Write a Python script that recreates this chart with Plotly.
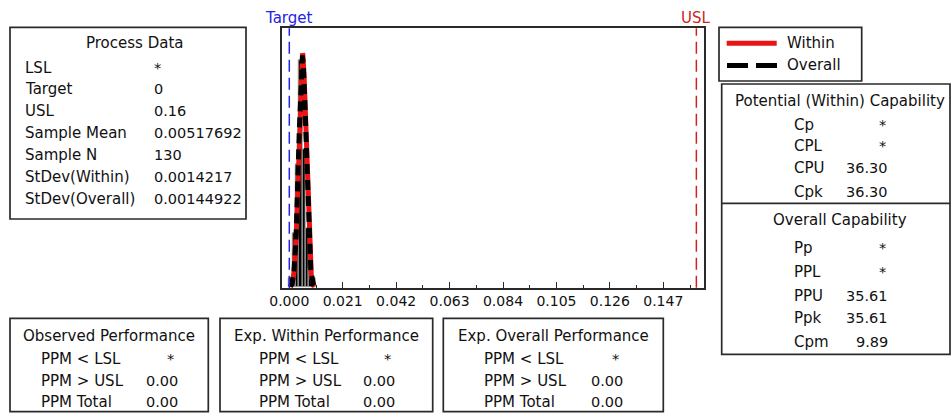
import numpy as np
import plotly.graph_objects as go

W, H = 951, 419

# ---- data -------------------------------------------------------------
bin_centers = [0.00055, 0.00185, 0.00315, 0.00445, 0.00575, 0.00705, 0.00835, 0.00965]
bin_counts = [2, 11, 25, 46, 28, 12, 4, 2]
bin_width = 0.0013

target = 0.0
usl = 0.16
sample_mean = 0.00517692
sample_n = 130
sd_within = 0.0014217
sd_overall = 0.00144922

x_ticks = [0.000, 0.021, 0.042, 0.063, 0.084, 0.105, 0.126, 0.147]

process_labels = ["LSL", "Target", "USL", "Sample Mean", "Sample N", "StDev(Within)", "StDev(Overall)"]
process_values = ["*", "0", "0.16", "0.00517692", "130", "0.0014217", "0.00144922"]

within_cap_labels = ["Cp", "CPL", "CPU", "Cpk"]
within_cap_values = ["*", "*", "36.30", "36.30"]
overall_cap_labels = ["Pp", "PPL", "PPU", "Ppk", "Cpm"]
overall_cap_values = ["*", "*", "35.61", "35.61", "9.89"]

perf_titles = ["Observed Performance", "Exp. Within Performance", "Exp. Overall Performance"]
perf_labels = ["PPM < LSL", "PPM > USL", "PPM Total"]
perf_values = [["*", "0.00", "0.00"], ["*", "0.00", "0.00"], ["*", "0.00", "0.00"]]

# ---- helpers (pixel -> paper) ----------------------------------------
def px(x):
    return x / W

def py(y):
    return 1 - y / H

FONT = "DejaVu Sans"
TXT = "#111111"
EDGE = "#2a2a2a"
RED = "rgb(235,20,20)"
USL_RED = "rgb(205,35,35)"
BLUE = "rgb(35,35,225)"

# plot area in pixels
PL, PR, PT, PB = 281.7, 704.3, 28.3, 287.7

fig = go.Figure()

# histogram
fig.add_trace(go.Bar(
    x=bin_centers, y=bin_counts, width=bin_width,
    marker=dict(color="black", line=dict(color="#b0b0b0", width=1)),
    showlegend=False, hoverinfo="skip",
))

# fitted normal curves scaled to counts
def normal_curve(mean, sd):
    xs = np.linspace(mean - 3.3 * sd, mean + 3.3 * sd, 200)
    ys = sample_n * bin_width * np.exp(-0.5 * ((xs - mean) / sd) ** 2) / (sd * np.sqrt(2 * np.pi))
    return xs, ys

xw, yw = normal_curve(sample_mean, sd_within)
xo, yo = normal_curve(sample_mean, sd_overall)
fig.add_trace(go.Scatter(x=xw, y=yw, mode="lines", line=dict(color=RED, width=5),
                         showlegend=False, hoverinfo="skip"))
fig.add_trace(go.Scatter(x=xo, y=yo, mode="lines", line=dict(color="black", width=5, dash="10px,6px"),
                         showlegend=False, hoverinfo="skip"))

# reference lines: target and USL
fig.add_shape(type="line", xref="x", yref="paper", x0=target, x1=target, y0=py(PB), y1=py(PT),
              line=dict(color=BLUE, width=1.5, dash="12px,6px"))
fig.add_shape(type="line", xref="x", yref="paper", x0=usl, x1=usl, y0=py(PB), y1=py(PT),
              line=dict(color=USL_RED, width=1.5, dash="12px,6px"))
fig.add_annotation(x=target, xref="x", y=py(18), yref="paper", text="Target", showarrow=False,
                   font=dict(family=FONT, size=15, color=BLUE), xanchor="center", yanchor="middle")
fig.add_annotation(x=usl, xref="x", y=py(18), yref="paper", text="USL", showarrow=False,
                   font=dict(family=FONT, size=15, color=USL_RED), xanchor="center", yanchor="middle")

# ---- text boxes -------------------------------------------------------
def box(x0, y0, x1, y1):
    fig.add_shape(type="rect", xref="paper", yref="paper", x0=px(x0), x1=px(x1), y0=py(y1), y1=py(y0),
                  line=dict(color=EDGE, width=1.7), fillcolor="rgba(0,0,0,0)")

def hline(x0, x1, y, color=EDGE, width=1.7):
    fig.add_shape(type="line", xref="paper", yref="paper", x0=px(x0), x1=px(x1), y0=py(y), y1=py(y),
                  line=dict(color=color, width=width))

def text(x, y, s, anchor="left", color=TXT, size=15):
    fig.add_annotation(x=px(x), y=py(y), xref="paper", yref="paper", text=s, showarrow=False,
                       xanchor=anchor, yanchor="middle", font=dict(family=FONT, size=size, color=color))

VAL = 14.5  # numeric values are set a touch smaller than the labels

# Process Data
box(10, 27.3, 246, 219)
text(135, 42.7, "Process Data", "center")
row_y = [67.7, 89.3, 110.9, 132.5, 154.6, 176.7, 198.8]
for lab, val, y in zip(process_labels, process_values, row_y):
    text(22.7, y, lab)
    text(151.7, y, val, size=VAL)

# legend
box(719, 27.3, 861.7, 81)
hline(726.7, 776.7, 43.3, RED, 5)
hline(727, 748, 65.5, "black", 5)
hline(756, 777, 65.5, "black", 5)
text(785, 43.3, "Within")
text(785, 65.5, "Overall")

# capability box
box(721.7, 84, 950, 354.3)
hline(721.7, 950, 203.3)
text(840, 100.7, "Potential (Within) Capability", "center")
for lab, val, y in zip(within_cap_labels, within_cap_values, [124.5, 146, 168.3, 191.5]):
    text(791.7, y, lab)
    text(888 if val == "*" else 890, y, val, "right", size=VAL)
text(840, 220, "Overall Capability", "center")
for lab, val, y in zip(overall_cap_labels, overall_cap_values, [248.3, 271.7, 295.5, 318.3, 341.7]):
    text(791.7, y, lab)
    text(888 if val == "*" else 890, y, val, "right", size=VAL)

# performance boxes
perf_boxes = [(10, 208.3), (220, 432.7), (443.3, 663.3)]
perf_label_x = [39.3, 256.7, 481.7]
perf_value_x = [180, 396.7, 625]
for (x0, x1), title, lx, vx, vals in zip(perf_boxes, perf_titles, perf_label_x, perf_value_x, perf_values):
    box(x0, 318.3, x1, 411.7)
    text((x0 + x1) / 2, 335.7, title, "center")
    for lab, val, y in zip(perf_labels, vals, [359, 380.7, 402.3]):
        text(lx, y, lab)
        text(vx - 4 if val == "*" else vx, y, val, "right", size=VAL)

# ---- axes --------------------------------------------------------------
x_per_px = 0.147 / (663.3 - 289.3)
x0_px = 289.3
xr = [(PL - x0_px) * x_per_px, (PR - x0_px) * x_per_px]

fig.update_layout(
    width=W, height=H,
    margin=dict(l=0, r=0, t=0, b=0, pad=0, autoexpand=False),
    paper_bgcolor="white", plot_bgcolor="white",
    bargap=0, showlegend=False,
    xaxis=dict(domain=[px(PL), px(PR)], range=xr, tickvals=x_ticks, tickformat=".3f",
               automargin=False,
               ticks="inside", ticklen=6, tickcolor=EDGE, tickwidth=1.2,
               minor=dict(tickvals=[t + 0.0105 for t in x_ticks], ticks="inside", ticklen=3,
                          tickcolor=EDGE, tickwidth=1.2),
               showline=True, linecolor=EDGE, linewidth=1.7, mirror=True,
               showgrid=False, zeroline=False,
               tickfont=dict(family=FONT, size=14, color=TXT)),
    yaxis=dict(domain=[py(PB), py(PT)], range=[0, 52.5], showticklabels=False, ticks="",
               automargin=False,
               showline=True, linecolor=EDGE, linewidth=1.7, mirror=True,
               showgrid=False, zeroline=False),
)

fig.write_html("out.html")
